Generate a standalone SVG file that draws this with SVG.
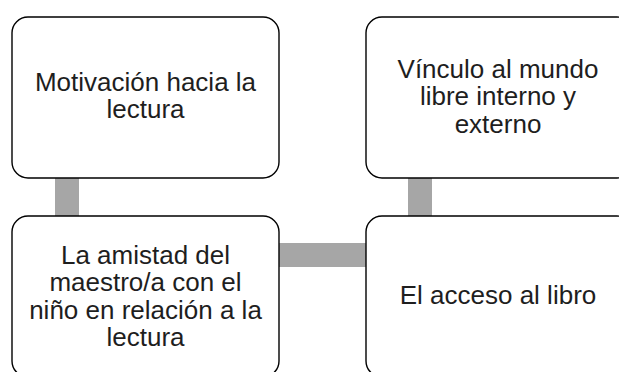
<svg xmlns="http://www.w3.org/2000/svg" width="619" height="372" viewBox="0 0 619 372">
<style>
.box{fill:#fff;stroke:#000;stroke-width:1.4}
.conn{fill:#a6a6a6}
text{font-family:"Liberation Sans",Arial,sans-serif;font-size:26px;fill:#1e1e1e;text-anchor:middle}
</style>
<rect width="619" height="372" fill="#fff"/>
<g id="connectors">
<rect class="conn" x="55" y="176" width="24" height="42"/>
<rect class="conn" x="408" y="176" width="24" height="42"/>
<rect class="conn" x="277" y="243" width="91" height="24"/>
</g>
<g id="node-motivacion">
<rect class="box" x="12" y="17" width="267" height="161" rx="16"/>
<text x="145.5" y="90.5">Motivación hacia la</text>
<text x="145.5" y="118.3">lectura</text>
</g>
<g id="node-vinculo">
<rect class="box" x="366" y="17" width="267" height="161" rx="16"/>
<text x="498" y="77.5">Vínculo al mundo</text>
<text x="498" y="105.2">libre interno y</text>
<text x="498" y="133">externo</text>
</g>
<g id="node-amistad">
<rect class="box" x="12" y="216" width="267" height="161" rx="16"/>
<text x="145.5" y="263.5">La amistad del</text>
<text x="145.5" y="291.2">maestro/a con el</text>
<text x="145.5" y="318.7">niño en relación a la</text>
<text x="145.5" y="346">lectura</text>
</g>
<g id="node-acceso">
<rect class="box" x="366" y="216" width="267" height="161" rx="16"/>
<text x="498" y="303.5">El acceso al libro</text>
</g>
</svg>
